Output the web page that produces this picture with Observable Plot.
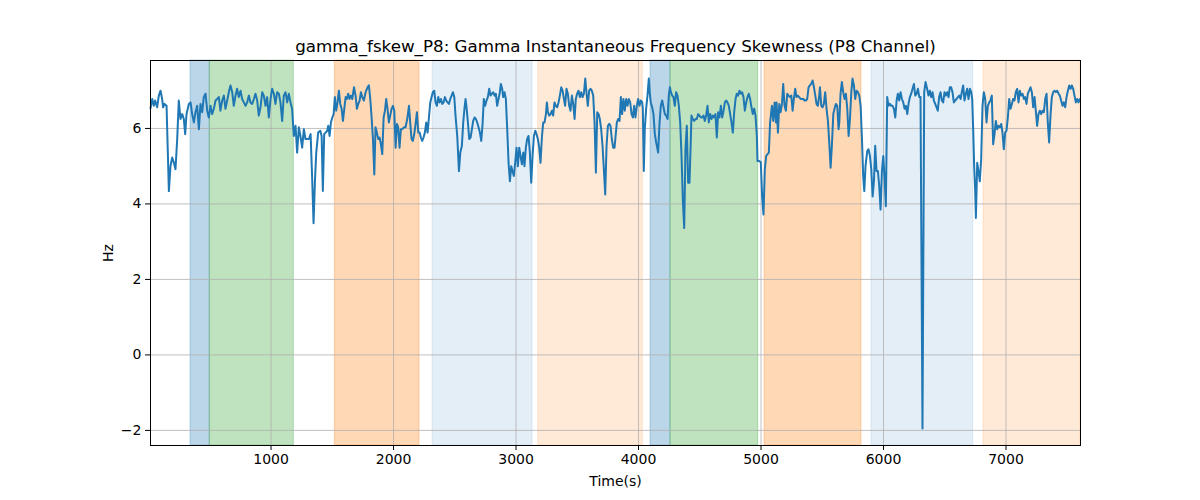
<!DOCTYPE html>
<html>
<head>
<meta charset="utf-8">
<script src="https://cdn.jsdelivr.net/npm/d3@7"></script>
<script src="https://cdn.jsdelivr.net/npm/@observablehq/plot@0.6"></script>
<style>
  html, body { margin: 0; padding: 0; background: #fff; }
</style>
</head>
<body>
<div id="chart"></div>
<script>
const title = "gamma_fskew_P8: Gamma Instantaneous Frequency Skewness (P8 Channel)";
const xLabel = "Time(s)";
const yLabel = "Hz";
const xTicks = [1000, 2000, 3000, 4000, 5000, 6000, 7000];
const yTicks = [-2, 0, 2, 4, 6];

const times = [
16,30,43,54,70,84,98,111,119,130,147,166,179,193,207,220,234,247,261,275,
288,299,310,329,343,356,370,383,397,411,424,438,451,465,479,492,506,519,533,547,
560,574,587,601,615,628,642,658,669,683,696,710,723,737,751,764,778,792,805,819,
832,846,860,873,887,900,914,928,941,955,968,982,996,1009,1023,1036,1050,1064,1077,1091,
1104,1118,1132,1145,1159,1172,1186,1200,1213,1227,1240,1254,1268,1281,
1296,1309,1323,1336,1347,1358,1369,1385,1402,1413,
1423,1434,1445,1459,1467,1478,1489,1500,1511,1521,
1532,1543,1554,1565,1576,1587,1598,1609,1619,1630,
1641,1652,1663,1677,1690,1701,1712,1723,1734,1745,
1758,1772,1788,1799,1810,1821,1832,1843,1853,1864,
1875,1886,1897,1908,1919,1930,1940,1951,1962,1973,
1984,1995,2006,2017,2028,2038,2049,2060,2071,2085,
2098,2112,2126,2136,2147,2158,2169,2180,2191,2202,
2213,2223,2234,2245,2256,2267,2278,2289,2300,2311,
2321,2332,2343,2354,2365,2376,2387,2398,2409,2419,
2430,2441,2452,2463,2474,2485,2496,2506,2520,2534,
2545,
2558,2569,2580,2588,2596,2607,2618,2629,2640,2650,
2661,2672,2683,2694,2705,2716,2727,2737,2748,2759,
2770,2781,2792,2803,2814,2825,2835,2846,2857,2868,
2876,2887,2895,2906,2917,2928,2939,2950,2961,2971,
2982,2993,3004,3015,3026,3037,3048,3059,3069,3080,
3091,3102,3113,3124,3135,3146,3157,3167,3178,3189,
3200,3211,3222,3233,3244,3252,3260,3271,3282,3293,
3303,3314,3325,3336,3347,3358,3369,3380,3391,3401,
3412,3423,3434,3445,3456,3467,3478,3488,3499,3510,
3521,3532,3543,3554,3565,3576,3586,3597,3608,3619,
3630,3641,3652,3663,3674,3684,3695,3706,3717,3728,
3739,3750,3761,3771,3782,3793,3804,
3823,3834,3845,3856,3866,3877,3888,3899,3910,3921,
3932,3943,3954,3964,3975,3986,3997,4008,4019,4030,
4035,4043,4051,4062,4073,4084,4092,4100,4111,4122,
4133,4144,4155,4160,4171,4182,4193,4204,4215,4226,
4237,4247,4256,4264,4275,4285,4296,4307,4318,4329,
4340,4351,4362,4373,4383,4394,4405,4416,4427,4432,
4443,4454,4465,4476,4487,4498,4509,4519,4530,4541,
4552,4563,4574,4585,4596,4607,4617,4628,4639,4650,
4661,4672,4683,4694,4705,4715,4726,4737,4748,4759,
4770,4781,4792,4802,4813,4824,4835,4846,4857,4868,
4879,4890,4900,4911,4922,4933,4944,4955,4966,4971,
4982,4998,5009,5020,5031,5042,5053,5064,5074,
5089,5100,5111,5122,5127,5138,5149,5160,5171,5181,
5192,5203,5214,5225,5236,5247,5258,5268,5279,5290,
5301,5312,5323,5334,5345,5356,5366,5377,5388,5399,
5410,5421,5432,5443,5453,5464,5475,5481,5492,5502,
5513,5524,5535,5546,5557,5568,5579,5590,5600,5611,
5622,5633,5639,5649,5660,5671,5682,5693,5704,5715,
5726,5737,5747,5758,5769,5780,5791,5802,5813,5824,
5834,5843,5853,5867,5878,5889,5900,5911,5922,5932,
5943,5954,5965,5976,5987,5998,6009,6019,6030,6041,
6052,6063,6074,6085,6096,6107,6117,6128,6139,6150,
6161,6172,6183,6194,6204,6215,6226,6237,6248,6259,
6270,6281,6292,6302,
6318,6332,6343,6356,6367,6378,6389,6400,6411,6422,
6433,6443,6454,6465,6476,6487,6498,6509,6520,6531,
6541,6552,6563,6574,6585,6596,6607,6618,6629,6639,
6650,6661,6672,6683,6694,6705,6716,6724,6732,6740,
6748,6754,6765,6775,6786,6797,6808,6819,6830,6841,
6852,6863,6873,6884,6895,6906,6917,6928,6939,6950,
6961,6971,6982,6993,7004,7015,7026,7037,7048,7058,
7069,7080,7091,7102,7113,7124,7135,7146,7156,7167,
7178,7189,7200,7211,7222,7233,7243,7254,7265,7276,
7287,7298,7309,7320,7331,7341,7352,7363,7374,7385,
7396,7407,7418,7429,7439,7450,7461,7472,7483,7494,
7505,7516,7527,7537,7548,7559,7570,7581,7592,7603
];

const values = [
6.53,6.78,6.60,6.74,6.56,6.87,7.00,6.78,6.56,6.65,6.60,4.34,5.00,5.23,5.09,4.92,5.72,6.74,6.25,6.38,
6.25,5.85,6.38,6.65,6.69,6.38,6.16,6.43,6.60,5.98,6.65,6.43,6.83,6.92,6.47,6.29,6.60,6.38,6.52,6.74,
6.78,6.83,6.47,6.74,6.87,6.52,6.74,7.00,7.14,6.96,6.60,6.87,7.05,6.83,7.00,6.78,6.69,6.60,6.69,6.87,
6.69,6.65,6.78,6.92,6.74,6.34,6.56,6.96,6.87,6.60,6.83,6.29,6.78,7.05,6.92,6.65,6.96,6.92,6.69,6.20,
6.87,6.96,6.69,6.92,6.69,6.52,5.80,6.07,5.36,6.03,5.80,5.49,5.98,5.72,
5.72,5.72,5.85,4.65,3.49,4.56,5.36,5.89,5.94,5.80,
4.34,5.85,5.89,5.94,6.07,5.80,6.16,6.29,6.38,6.83,
6.47,6.69,7.00,6.65,6.52,6.20,6.52,6.83,6.78,6.92,
6.78,6.87,6.78,7.09,6.87,6.52,6.65,6.74,6.96,6.83,
6.74,6.96,7.09,7.14,6.78,6.29,5.72,4.78,6.03,5.89,
5.72,5.76,5.58,5.32,6.29,6.47,6.78,6.52,6.16,6.34,
6.52,6.60,6.47,5.49,6.12,6.03,5.49,5.98,5.98,6.03,
6.03,6.25,6.60,6.16,5.72,5.67,5.85,6.12,6.43,5.89,
5.89,5.76,5.67,5.76,5.89,6.16,5.89,6.29,6.69,6.83,
6.96,7.00,6.69,6.60,6.83,6.69,6.78,6.65,6.69,6.83,
6.74,6.69,6.65,6.78,6.87,6.96,6.83,6.34,5.80,4.87,
5.36,
5.54,6.16,6.56,6.78,6.56,6.16,5.72,5.76,5.98,6.20,
6.29,6.25,6.16,6.03,5.89,5.67,6.12,6.78,6.60,6.74,
6.83,7.05,6.87,6.92,6.96,6.87,6.92,6.60,6.78,6.96,
7.18,7.05,6.83,6.96,6.78,5.98,5.09,4.60,5.00,4.87,
4.74,5.09,5.49,5.00,5.49,5.27,5.05,5.36,5.00,5.49,
5.72,5.80,5.36,4.56,5.27,5.80,5.94,5.85,5.72,5.49,
5.09,5.76,6.16,6.16,6.38,6.69,6.43,6.34,6.38,6.47,
6.34,6.69,6.60,6.56,6.69,6.87,7.09,7.00,6.78,6.60,
7.05,6.92,6.60,6.47,6.87,6.65,6.25,6.78,6.92,7.00,
6.83,6.96,6.83,6.92,7.32,6.92,6.60,7.00,7.05,7.00,
6.87,6.16,4.83,6.43,6.38,6.25,5.98,5.54,4.92,4.25,
5.54,6.07,6.12,6.07,5.72,5.49,5.49,
6.16,6.25,6.20,6.83,6.38,6.78,6.47,6.78,6.60,6.78,
6.69,6.38,6.29,6.60,6.29,6.60,6.78,6.60,6.74,6.69,
6.52,4.87,5.98,6.52,6.87,7.32,6.92,6.69,6.56,6.38,
5.85,5.63,5.45,5.36,6.12,6.60,6.74,6.56,6.38,6.34,
6.25,6.87,7.09,6.96,6.87,6.83,6.60,6.96,6.87,6.60,
6.16,5.27,4.07,3.36,5.45,6.07,4.56,4.56,5.72,6.34,
6.25,6.20,6.25,6.25,6.38,6.34,6.29,6.29,6.34,6.20,
6.34,6.60,6.16,6.38,6.25,6.34,6.29,6.38,5.76,6.43,
6.29,6.60,6.29,6.47,6.69,6.74,6.69,6.60,6.38,6.16,
5.89,6.43,6.78,6.92,6.87,7.00,6.92,6.96,6.83,6.47,
6.69,6.83,6.92,6.78,6.56,6.38,6.52,6.34,5.80,5.14,
5.14,5.11,4.20,3.72,4.92,5.27,5.32,5.36,6.16,
6.60,6.20,6.69,6.16,6.69,5.89,6.65,6.43,6.65,7.18,
6.60,6.47,6.92,6.87,6.83,6.87,6.47,6.78,7.05,6.83,
6.87,6.83,6.78,6.78,6.78,6.74,6.74,6.78,7.09,7.14,
7.18,7.27,7.09,6.87,6.65,6.60,6.87,7.09,6.60,6.56,
6.65,6.96,6.52,6.20,5.63,4.96,5.58,6.38,6.52,6.65,
6.60,5.98,6.16,6.92,7.23,6.96,6.78,6.92,6.52,5.80,
6.25,6.96,7.32,7.14,6.78,7.00,6.96,6.87,6.60,5.72,
4.74,4.34,5.00,5.40,5.45,5.27,4.92,4.20,4.60,5.54,
4.87,4.87,4.47,3.85,4.87,5.27,4.65,3.94,6.83,6.60,
6.65,6.60,6.60,6.52,6.29,6.74,6.92,6.74,6.96,6.78,
6.69,6.52,6.60,6.38,6.65,6.83,6.92,7.05,7.18,6.87,
6.92,7.05,6.83,6.83,
-1.95,6.96,7.23,7.05,6.87,7.00,6.83,6.96,6.74,6.65,
6.56,6.47,6.83,6.96,6.74,6.69,6.96,6.87,6.96,6.83,
7.09,7.09,6.96,6.69,6.74,6.78,6.83,6.87,6.78,6.96,
7.14,6.74,6.92,7.05,6.78,7.05,6.96,6.78,5.98,5.00,
4.38,3.63,5.09,4.87,4.60,5.18,6.60,6.96,6.78,6.16,
6.60,6.69,6.74,6.87,5.58,5.85,6.20,5.98,6.07,6.03,
6.12,5.89,5.45,5.89,5.94,6.29,6.78,6.52,6.65,6.78,
6.74,6.96,7.05,6.69,7.00,6.87,6.92,6.78,6.83,6.65,
6.92,7.00,7.09,6.96,6.56,6.83,6.47,6.07,6.38,6.47,
6.38,6.47,6.43,6.78,6.92,6.16,5.63,6.34,6.83,6.96,
7.00,6.96,7.00,6.92,6.87,6.74,6.60,6.69,6.56,6.83,
7.00,7.14,7.05,7.14,7.05,6.87,6.69,6.78,6.69,6.78
];

// Shaded intervals
const spanStart = [343, 500, 1521, 2318, 3181, 4098, 4261, 5029, 5902, 6816];
const spanEnd   = [500, 1186, 2212, 3135, 4035, 4261, 4977, 5820, 6732, 7608];
const spanKind  = ["blue", "green", "orange", "lightblue", "lightorange",
                   "blue", "green", "orange", "lightblue", "lightorange"];

// Styles (outside the data)
const kindStyle = {
  blue:        {color: "#1f77b4", opacity: 0.3},
  green:       {color: "#2ca02c", opacity: 0.3},
  orange:      {color: "#ff7f0e", opacity: 0.3},
  lightblue:   {color: "#1f77b4", opacity: 0.12},
  lightorange: {color: "#ff7f0e", opacity: 0.16}
};

const series = times.map((t, i) => ({t, v: values[i]}));
const spans = spanStart.map((s, i) => ({x1: s, x2: spanEnd[i], kind: spanKind[i]}));

const fmt = d => d < 0 ? "\u2212" + Math.abs(d) : String(d);

const spanMarks = Object.keys(kindStyle).map(k =>
  Plot.rect(spans.filter(d => d.kind === k), {
    x1: "x1", x2: "x2",
    fill: kindStyle[k].color, fillOpacity: kindStyle[k].opacity,
    stroke: kindStyle[k].color, strokeOpacity: kindStyle[k].opacity, strokeWidth: 1
  })
);

const chart = Plot.plot({
  width: 1200,
  height: 500,
  marginLeft: 150,
  marginRight: 120,
  marginTop: 60,
  marginBottom: 55,
  style: {fontFamily: "DejaVu Sans", fontSize: "14px", color: "black", background: "white"},
  x: {domain: [16, 7608]},
  y: {domain: [-2.4, 7.8]},
  marks: [
    ...spanMarks,
    Plot.gridX(xTicks, {stroke: "#b0b0b0", strokeOpacity: 1, strokeWidth: 0.8}),
    Plot.gridY(yTicks, {stroke: "#b0b0b0", strokeOpacity: 1, strokeWidth: 0.8}),
    Plot.line(series, {x: "t", y: "v", stroke: "#1f77b4", strokeWidth: 2, curve: "linear"}),
    Plot.axisX(xTicks, {tickSize: 5, tickPadding: 4, tickFormat: fmt, label: null, fontSize: 14, stroke: "black"}),
    Plot.axisY(yTicks, {tickSize: 5, tickPadding: 4, tickFormat: fmt, label: null, fontSize: 14, stroke: "black"}),
    Plot.frame({stroke: "black", strokeWidth: 1}),
    Plot.text([title], {text: d => d, frameAnchor: "top", lineAnchor: "middle", textAnchor: "middle", dy: -14, fontSize: 16.7, fill: "black"}),
    Plot.text([xLabel], {text: d => d, frameAnchor: "bottom", lineAnchor: "middle", textAnchor: "middle", dy: 36, fontSize: 14, fill: "black"}),
    Plot.text([yLabel], {text: d => d, frameAnchor: "left", lineAnchor: "middle", textAnchor: "middle", dx: -42, rotate: -90, fontSize: 14, fill: "black"})
  ]
});

document.getElementById("chart").append(chart);
</script>
</body>
</html>
